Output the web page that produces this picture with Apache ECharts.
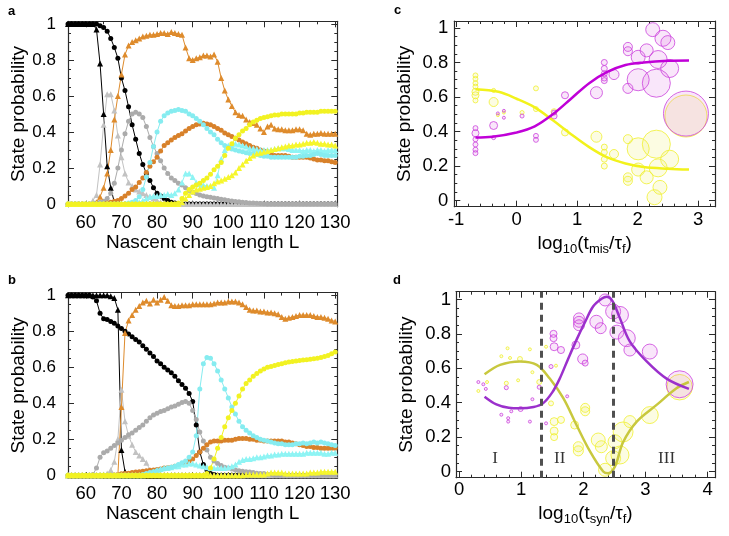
<!DOCTYPE html>
<html>
<head>
<meta charset="utf-8">
<script src="https://cdn.jsdelivr.net/npm/echarts@6/dist/echarts.min.js"></script>
<style>
html,body{margin:0;padding:0;background:#fff;}
#main{width:729px;height:536px;}
</style>
</head>
<body>
<div id="main"></div>
<script>
// nascent chain length L (panels a, b)
var chainLength = [55,56,57,58,59,60,61,62,63,64,
	65,66,67,68,69,70,71,72,73,74,
	75,76,77,78,79,80,81,82,83,84,
	85,86,87,88,89,90,91,92,93,94,
	95,96,97,98,99,100,101,102,103,104,
	105,106,107,108,109,110,111,112,113,114,
	115,116,117,118,119,120,121,122,123,124,
	125,126,127,128,129,130];

// panel a
var aBlackTri = [1,1,1,1,1,1,1,1,0.97,0.78,
	0.50,0.21,0.09,0.01,0,0,0,0,0,0,
	0,0,0,0,0,0,0,0,0,0,
	0,0,0,0,0,0,0,0,0,0,
	0,0,0,0,0,0,0,0,0,0,
	0,0,0,0,0,0,0,0,0,0,
	0,0,0,0,0,0,0,0,0,0,
	0,0,0,0,0,0];
var aBlackCirc = [1,1,1,1,1,1,1,1,1,0.99,
	0.98,0.96,0.92,0.87,0.81,0.70,0.63,0.54,0.44,0.36,
	0.28,0.22,0.17,0.13,0.09,0.06,0.045,0.03,0.02,0.01,
	0.005,0,0,0,0,0,0,0,0,0,
	0,0,0,0,0,0,0,0,0,0,
	0,0,0,0,0,0,0,0,0,0,
	0,0,0,0,0,0,0,0,0,0,
	0,0,0,0,0,0];
var aGrayTri = [0,0,0,0,0,0,0,0.02,0.05,0.22,
	0.44,0.61,0.61,0.52,0.38,0.26,0.17,0.12,0.10,0.08,
	0.07,0.06,0.05,0.04,0.03,0.02,0.01,0.005,0,0,
	0,0,0,0,0,0,0,0,0,0,
	0,0,0,0,0,0,0,0,0,0,
	0,0,0,0,0,0,0,0,0,0,
	0,0,0,0,0,0,0,0,0,0,
	0,0,0,0,0,0];
var aGrayCirc = [0,0,0,0,0,0,0,0,0.005,0.01,
	0.015,0.03,0.06,0.115,0.20,0.30,0.39,0.46,0.50,0.51,
	0.50,0.48,0.43,0.37,0.32,0.28,0.24,0.20,0.17,0.145,
	0.13,0.115,0.105,0.09,0.075,0.065,0.058,0.05,0.045,0.04,
	0.037,0.033,0.03,0.027,0.024,0.02,0.017,0.014,0.012,0.01,
	0.008,0.006,0.005,0.004,0.003,0.002,0,0,0,0,
	0,0,0,0,0,0,0,0,0,0,
	0,0,0,0,0,0];
var aOrangeTri = [0,0,0,0,0,0,0,0,0.01,0.04,
	0.09,0.17,0.30,0.47,0.60,0.72,0.83,0.88,0.90,0.91,
	0.92,0.93,0.935,0.94,0.94,0.945,0.95,0.95,0.945,0.955,
	0.95,0.945,0.94,0.87,0.81,0.80,0.81,0.815,0.825,0.825,
	0.82,0.83,0.79,0.70,0.63,0.58,0.545,0.51,0.495,0.49,
	0.47,0.455,0.45,0.44,0.42,0.40,0.43,0.44,0.42,0.415,
	0.415,0.41,0.41,0.41,0.415,0.415,0.41,0.39,0.385,0.39,
	0.39,0.395,0.39,0.39,0.39,0.39];
var aOrangeCirc = [0,0,0,0,0,0,0,0,0,0,
	0,0.005,0.01,0.015,0.02,0.03,0.045,0.06,0.08,0.095,
	0.12,0.145,0.175,0.21,0.235,0.26,0.295,0.325,0.34,0.355,
	0.37,0.38,0.39,0.405,0.42,0.43,0.44,0.445,0.448,0.445,
	0.44,0.43,0.42,0.41,0.395,0.385,0.375,0.365,0.355,0.345,
	0.335,0.325,0.315,0.31,0.30,0.295,0.29,0.28,0.27,0.27,
	0.27,0.27,0.265,0.26,0.26,0.26,0.26,0.26,0.255,0.25,
	0.245,0.245,0.24,0.24,0.235,0.23];
var aCyanTri = [0,0,0,0,0,0,0,0,0,0,
	0,0,0,0,0,0,0,0,0,0.005,
	0.01,0.02,0.03,0.04,0.045,0.045,0.05,0.05,0.055,0.05,
	0.06,0.08,0.12,0.17,0.17,0.15,0.12,0.11,0.105,0.10,
	0.10,0.09,0.16,0.25,0.30,0.325,0.33,0.335,0.33,0.325,
	0.32,0.31,0.31,0.305,0.30,0.30,0.30,0.30,0.305,0.31,
	0.31,0.31,0.305,0.30,0.30,0.30,0.295,0.30,0.30,0.295,
	0.30,0.30,0.295,0.30,0.30,0.30];
var aCyanCirc = [0,0,0,0,0,0,0,0,0,0,
	0,0,0,0,0,0,0,0.005,0.01,0.02,
	0.04,0.08,0.15,0.23,0.32,0.40,0.46,0.49,0.505,0.515,
	0.52,0.525,0.52,0.515,0.50,0.49,0.475,0.46,0.44,0.42,
	0.40,0.385,0.36,0.34,0.325,0.315,0.305,0.30,0.295,0.29,
	0.285,0.28,0.28,0.275,0.27,0.265,0.265,0.26,0.26,0.26,
	0.26,0.26,0.26,0.26,0.26,0.265,0.265,0.27,0.27,0.275,
	0.28,0.275,0.27,0.27,0.27,0.27];
var aYellowTri = [0,0,0,0,0,0,0,0,0,0,
	0,0,0,0,0,0,0,0,0,0,
	0,0,0,0,0,0,0,0,0,0,
	0,0,0.01,0.03,0.05,0.07,0.08,0.085,0.09,0.095,
	0.10,0.115,0.125,0.13,0.14,0.15,0.16,0.175,0.20,0.22,
	0.24,0.255,0.27,0.28,0.285,0.29,0.295,0.30,0.305,0.31,
	0.315,0.32,0.325,0.325,0.33,0.33,0.335,0.34,0.34,0.345,
	0.34,0.335,0.335,0.33,0.33,0.325];
var aYellowCirc = [0,0,0,0,0,0,0,0,0,0,
	0,0,0,0,0,0,0,0,0,0,
	0,0,0,0,0,0,0,0,0,0,
	0,0.005,0.03,0.06,0.08,0.095,0.105,0.115,0.13,0.145,
	0.165,0.19,0.21,0.23,0.27,0.31,0.335,0.365,0.385,0.405,
	0.42,0.44,0.455,0.465,0.475,0.48,0.485,0.49,0.495,0.495,
	0.50,0.50,0.50,0.50,0.50,0.505,0.505,0.51,0.51,0.51,
	0.51,0.515,0.515,0.515,0.515,0.515];

// panel b
var bBlackTri = [1,1,1,1,1,1,1,1,1,1,
	1,1,0.995,0.985,0.92,0.14,0.02,0.005,0,0,
	0,0,0,0,0,0,0,0,0,0,
	0,0,0,0,0,0,0,0,0,0,
	0,0,0,0,0,0,0,0,0,0,
	0,0,0,0,0,0,0,0,0,0,
	0,0,0,0,0,0,0,0,0,0,
	0,0,0,0,0,0];
var bBlackCirc = [1,1,1,1,1,1,1,0.99,0.97,0.90,
	0.87,0.865,0.855,0.845,0.83,0.815,0.80,0.785,0.77,0.755,
	0.74,0.72,0.70,0.68,0.66,0.635,0.62,0.60,0.585,0.57,
	0.55,0.525,0.505,0.483,0.455,0.41,0.28,0.13,0.06,0.03,
	0.01,0.005,0,0,0,0,0,0,0,0,
	0,0,0,0,0,0,0,0,0,0,
	0,0,0,0,0,0,0,0,0,0,
	0,0,0,0,0,0];
var bGrayTri = [0,0,0,0,0,0,0,0,0,0,
	0.005,0.01,0.03,0.075,0.20,0.475,0.30,0.22,0.17,0.13,
	0.11,0.09,0.07,0.03,0.02,0.01,0.005,0,0,0,
	0,0,0,0,0,0,0,0,0,0,
	0,0,0,0,0,0,0,0,0,0,
	0,0,0,0,0,0,0,0,0,0,
	0,0,0,0,0,0,0,0,0,0,
	0,0,0,0,0,0];
var bGrayCirc = [0,0,0,0,0,0,0,0.005,0.04,0.10,
	0.125,0.135,0.15,0.165,0.18,0.195,0.21,0.225,0.235,0.25,
	0.265,0.28,0.30,0.32,0.335,0.345,0.355,0.36,0.37,0.38,
	0.385,0.395,0.405,0.41,0.40,0.36,0.31,0.24,0.19,0.14,
	0.10,0.08,0.065,0.055,0.045,0.04,0.035,0.03,0.025,0.022,
	0.02,0.018,0.015,0.012,0.01,0.01,0.005,0.005,0,0,
	0,0,0,0,0,0,0,0,0,0,
	0,0,0,0,0,0];
var bOrangeTri = [0,0,0,0,0,0,0,0,0,0,
	0,0,0,0,0,0.38,0.79,0.86,0.89,0.92,
	0.94,0.96,0.97,0.955,0.975,0.96,0.975,0.99,0.97,0.945,
	0.94,0.94,0.945,0.945,0.945,0.95,0.95,0.95,0.95,0.95,
	0.95,0.955,0.96,0.96,0.96,0.965,0.965,0.965,0.96,0.95,
	0.935,0.92,0.915,0.915,0.91,0.91,0.905,0.905,0.90,0.895,
	0.88,0.87,0.875,0.88,0.885,0.89,0.89,0.89,0.89,0.885,
	0.88,0.88,0.875,0.87,0.86,0.855];
var bOrangeCirc = [0,0,0,0,0,0,0,0,0,0,
	0,0,0,0.002,0.005,0.008,0.01,0.012,0.015,0.018,
	0.02,0.022,0.025,0.028,0.03,0.032,0.035,0.04,0.042,0.045,
	0.05,0.055,0.06,0.07,0.08,0.09,0.11,0.13,0.15,0.17,
	0.185,0.19,0.19,0.19,0.195,0.195,0.195,0.20,0.205,0.205,
	0.205,0.20,0.20,0.195,0.195,0.19,0.19,0.19,0.19,0.19,
	0.19,0.185,0.185,0.18,0.175,0.17,0.165,0.16,0.16,0.155,
	0.155,0.15,0.15,0.15,0.15,0.15];
var bCyanTri = [0,0,0,0,0,0,0,0,0,0,
	0,0,0,0,0,0,0,0,0,0,
	0,0,0.005,0.01,0.02,0.03,0.035,0.04,0.04,0.045,
	0.05,0.05,0.06,0.06,0.065,0.065,0.06,0.055,0.05,0.045,
	0.04,0.04,0.04,0.04,0.04,0.045,0.05,0.06,0.075,0.085,
	0.09,0.09,0.095,0.10,0.10,0.105,0.11,0.11,0.115,0.115,
	0.12,0.12,0.12,0.12,0.12,0.12,0.12,0.125,0.125,0.125,
	0.125,0.125,0.12,0.12,0.125,0.125];
var bCyanCirc = [0,0,0,0,0,0,0,0,0,0,
	0,0,0,0,0,0,0,0,0,0,
	0,0.005,0.01,0.015,0.02,0.025,0.03,0.035,0.04,0.045,
	0.05,0.06,0.07,0.08,0.10,0.13,0.22,0.48,0.62,0.655,
	0.65,0.62,0.58,0.53,0.48,0.43,0.38,0.34,0.30,0.27,
	0.25,0.235,0.22,0.21,0.20,0.195,0.19,0.185,0.18,0.175,
	0.175,0.17,0.17,0.17,0.175,0.175,0.18,0.175,0.18,0.185,
	0.18,0.185,0.18,0.175,0.17,0.165];
var bYellowTri = [0,0,0,0,0,0,0,0,0,0,
	0,0,0,0,0,0,0,0,0,0,
	0,0,0,0,0,0,0,0,0,0,
	0,0,0,0,0,0,0,0,0,0,
	0,0,0,0,0,0,0,0,0,0,
	0.005,0.005,0.005,0.005,0.005,0.005,0.01,0.015,0.015,0.015,
	0.015,0.01,0.01,0.01,0.01,0.01,0.01,0.01,0.015,0.015,
	0.015,0.02,0.02,0.02,0.02,0.02];
var bYellowCirc = [0,0,0,0,0,0,0,0,0,0,
	0,0,0,0,0,0,0,0,0,0,
	0,0,0,0,0,0,0,0,0,0,
	0,0,0,0,0,0,0,0,0,0.01,
	0.04,0.09,0.15,0.21,0.27,0.32,0.36,0.40,0.44,0.48,
	0.51,0.53,0.55,0.565,0.58,0.59,0.60,0.605,0.61,0.615,
	0.62,0.625,0.63,0.632,0.635,0.638,0.64,0.642,0.645,0.648,
	0.65,0.655,0.66,0.665,0.675,0.685];

// panel c: [log10(tmis/tf), probability, weight]
var cMagenta = [[-0.68,0.42,3.3],[-0.68,0.39,4.7],[-0.68,0.355,3.3],[-0.68,0.325,3.3],[-0.68,0.295,3.3],[-0.68,0.275,3.3],
	[-0.38,0.435,5.3],[-0.38,0.365,2.7],[-0.31,0.505,2],[-0.21,0.52,2],[-0.21,0.48,2],[0.09,0.49,2.7],
	[0.32,0.375,3.3],[0.32,0.352,3.3],[0.62,0.51,3.3],[0.62,0.49,4],[0.80,0.61,4.7],[1.32,0.625,8],
	[1.45,0.80,4],[1.45,0.765,4],[1.45,0.735,4],[1.45,0.71,4],[1.45,0.695,4],[1.61,0.73,6.7],
	[1.84,0.89,6],[1.84,0.865,6],[1.84,0.65,6.7],[2.01,0.83,9.3],[2.01,0.70,14.7],[2.15,0.87,8.7],
	[2.25,0.99,9.3],[2.31,0.68,18.7],[2.34,0.817,12],[2.42,0.94,10.7],[2.5,0.915,9.3],[2.53,0.765,12],
	[2.80,0.504,30]];
var cYellow = [[-0.68,0.725,3.3],[-0.68,0.705,3.3],[-0.68,0.68,3.3],[-0.68,0.66,3.3],[-0.68,0.63,4.7],[-0.68,0.61,4.7],[-0.68,0.58,3.3],
	[-0.38,0.638,2.7],[-0.38,0.571,6],[-0.31,0.495,2],[-0.21,0.51,2],[0.09,0.51,2.7],
	[0.32,0.65,3.3],[0.32,0.53,3.3],[0.62,0.515,4],[0.80,0.395,4.7],[1.32,0.37,7.3],
	[1.45,0.31,4],[1.45,0.28,4],[1.45,0.24,4],[1.45,0.20,4],[1.61,0.27,6],
	[1.84,0.356,6],[1.84,0.135,6],[1.84,0.115,6],[2.01,0.30,14.7],[2.01,0.18,8.7],[2.15,0.135,8.7],
	[2.31,0.327,18.7],[2.28,0.02,10],[2.34,0.19,12],[2.37,0.077,9.3],[2.53,0.24,12],
	[2.80,0.49,28]];
var cMagentaFit = [[-0.68,0.365],[-0.4,0.37],[0,0.395],[0.3,0.43],[0.6,0.5],[0.9,0.59],[1.2,0.68],[1.5,0.745],[1.8,0.785],[2.1,0.80],[2.5,0.81],[2.85,0.812]];
var cYellowFit = [[-0.68,0.645],[-0.3,0.63],[0,0.59],[0.3,0.54],[0.6,0.465],[0.9,0.385],[1.2,0.31],[1.5,0.25],[1.8,0.215],[2.1,0.195],[2.5,0.185],[2.85,0.18]];

// panel d: [log10(tsyn/tf), probability, weight]
var dMagenta = [[0.31,0.52,2],[0.39,0.507,2],[0.43,0.48,2],[0.76,0.487,2.7],[0.84,0.35,2],[0.79,0.31,2],[0.79,0.29,2],
	[0.68,0.33,2],[1.14,0.29,2],[0.99,0.363,3.3],[1.18,0.42,2],[1.29,0.49,2.7],[1.40,0.28,2],[1.74,0.437,2],[1.48,0.61,2.7],
	[1.52,0.80,4.7],[1.52,0.775,4.7],[1.53,0.725,5.3],[1.64,0.706,4.7],[1.88,0.735,5.3],
	[1.93,0.89,7.3],[1.93,0.87,7.3],[1.93,0.85,7.3],[1.99,0.654,6.7],[2.03,0.63,4],
	[2.21,0.87,8.7],[2.28,0.833,7.3],[2.35,0.997,8],[2.48,0.93,10],[2.59,0.91,11.3],[2.54,0.81,9.3],
	[2.70,0.775,11.3],[2.75,0.706,8],[3.07,0.697,10],[3.55,0.507,18]];
var dYellow = [[0.68,0.67,2],[0.78,0.716,2],[0.82,0.66,2],[0.98,0.654,3.3],[1.14,0.71,2],[1.18,0.577,2],[1.40,0.725,2],
	[1.56,0.615,2],[0.45,0.52,2],[0.31,0.468,2],[0.76,0.513,2.7],[0.95,0.53,2],[1.29,0.52,3.3],
	[1.48,0.396,3.3],[1.53,0.29,5.3],[1.53,0.235,5.3],[1.53,0.20,4.7],[1.64,0.30,4.7],[1.86,0.27,5.3],
	[1.92,0.144,6.7],[1.92,0.12,6.7],[2.03,0.37,6],[2.03,0.35,6],
	[2.24,0.183,9.3],[2.29,0.144,8],[2.35,0.01,8.7],[2.48,0.077,10],[2.59,0.096,12],[2.51,0.173,9.3],
	[2.64,0.23,13.3],[2.75,0.29,8],[3.07,0.328,11.3],[3.55,0.49,17]];
var dMagentaFit = [[0.41,0.435],[0.6,0.39],[0.8,0.37],[0.98,0.367],[1.2,0.375],[1.35,0.396],[1.5,0.46],[1.62,0.54],
	[1.75,0.65],[1.89,0.765],[2.03,0.87],[2.16,0.96],[2.3,1.005],[2.38,1.015],[2.47,0.99],[2.59,0.89],[2.75,0.755],
	[3.02,0.64],[3.34,0.54],[3.70,0.48]];
var dOliveFit = [[0.41,0.565],[0.66,0.62],[0.98,0.64],[1.25,0.62],[1.46,0.54],[1.68,0.425],[1.89,0.27],[2.11,0.115],
	[2.32,0.0],[2.40,-0.01],[2.51,0.03],[2.64,0.17],[2.86,0.29],[3.18,0.387],[3.50,0.484],[3.70,0.52]];
var regimeBounds = [1.33, 2.48];
var regimeNames = [{value:[0.58,0.075], name:'I'}, {value:[1.62,0.075], name:'II'}, {value:[3.34,0.075], name:'III'}];

// tick labels
var lengthTicks = [60,70,80,90,100,110,120,130];
var lengthMinor = [55,65,75,85,95,105,115,125];
var probTicks = [0,0.2,0.4,0.6,0.8,1];
var probMinor = [0.05,0.1,0.15,0.25,0.3,0.35,0.45,0.5,0.55,0.65,0.7,0.75,0.85,0.9,0.95];
var misTicks = [-1,0,1,2,3];
var misMinor = [-0.8,-0.6,-0.4,-0.2,0.2,0.4,0.6,0.8,1.2,1.4,1.6,1.8,2.2,2.4,2.6,2.8,3.2];
var synTicks = [0,1,2,3,4];
var synMinor = [0.2,0.4,0.6,0.8,1.2,1.4,1.6,1.8,2.2,2.4,2.6,2.8,3.2,3.4,3.6,3.8];

(function() {
	var font = 'Liberation Sans';
	var ink = '#2a2a2a';
	var chart = echarts.init(document.getElementById('main'));

	var xAxes = [], yAxes = [];
	// two axes per side: main (line, major ticks, labels) and minor ticks
	function addAxes(list, gi, r, sides) {
		[sides[0], sides[1]].forEach(function(pos, k) {
			var main = {
				type: 'value', gridIndex: gi, min: r.min, max: r.max, position: pos, silent: true,
				splitLine: {show: false},
				axisLine: {show: true, onZero: false, lineStyle: {color: ink, width: 1.2}},
				axisTick: {show: true, inside: true, length: 6, customValues: r.ticks, lineStyle: {color: ink}},
				axisLabel: {show: k === 0, customValues: r.ticks, margin: r.margin, fontSize: r.fontSize,
					fontFamily: font, color: '#000', formatter: function(v) { return String(v); }}
			};
			if (k === 0 && r.name) {
				main.name = r.name;
				main.nameLocation = 'middle';
				main.nameGap = r.nameGap;
				main.nameTextStyle = {fontSize: 19, fontFamily: font, color: '#000',
					rich: {s: {fontSize: 13, fontFamily: font, color: '#000', padding: [10, 0, 0, 0]}}};
			}
			list.push(main);
			list.push({
				type: 'value', gridIndex: gi, min: r.min, max: r.max, position: pos, silent: true,
				splitLine: {show: false},
				axisLine: {show: false, onZero: false},
				axisTick: {show: true, inside: true, length: 3, customValues: r.minor, lineStyle: {color: ink}},
				axisLabel: {show: false}
			});
		});
	}

	addAxes(xAxes, 0, {min: 55, max: 130.6, ticks: lengthTicks, minor: lengthMinor, margin: 7, fontSize: 18.5, name: 'Nascent chain length L', nameGap: 24}, ['bottom', 'top']);
	addAxes(yAxes, 0, {min: -0.015, max: 1.015, ticks: probTicks, minor: probMinor, margin: 12, fontSize: 17, name: 'State probability', nameGap: 40}, ['left', 'right']);
	addAxes(xAxes, 1, {min: 55, max: 130.6, ticks: lengthTicks, minor: lengthMinor, margin: 6, fontSize: 18.5, name: 'Nascent chain length L', nameGap: 23}, ['bottom', 'top']);
	addAxes(yAxes, 1, {min: -0.015, max: 1.015, ticks: probTicks, minor: probMinor, margin: 12, fontSize: 17, name: 'State probability', nameGap: 40}, ['left', 'right']);
	addAxes(xAxes, 2, {min: -1.03, max: 3.28, ticks: misTicks, minor: misMinor, margin: 4, fontSize: 18.5, name: 'log{s|10}(t{s|mis}/τ{s|f})', nameGap: 26}, ['bottom', 'top']);
	addAxes(yAxes, 2, {min: -0.035, max: 1.04, ticks: probTicks, minor: probMinor, margin: 6, fontSize: 18.5, name: 'State probability', nameGap: 40}, ['left', 'right']);
	addAxes(xAxes, 3, {min: -0.05, max: 4.12, ticks: synTicks, minor: synMinor, margin: 3, fontSize: 18.5, name: 'log{s|10}(t{s|syn}/τ{s|f})', nameGap: 25}, ['bottom', 'top']);
	addAxes(yAxes, 3, {min: -0.036, max: 1.045, ticks: probTicks, minor: probMinor, margin: 5, fontSize: 18.5, name: 'State probability', nameGap: 40}, ['left', 'right']);

	function profile(gi, values, color, symbol) {
		return {
			type: 'line', xAxisIndex: gi * 4, yAxisIndex: gi * 4,
			data: chainLength.map(function(L, i) { return [L, values[i]]; }),
			symbol: symbol, symbolSize: symbol === 'triangle' ? 6 : 5,
			showSymbol: true, silent: true,
			lineStyle: {color: color, width: 1},
			itemStyle: {color: color}
		};
	}

	function bubbles(gi, pts, color, tint, hatch) {
		return {
			type: 'scatter', xAxisIndex: gi * 4, yAxisIndex: gi * 4, data: pts, silent: true, z: 2,
			symbol: 'circle',
			symbolSize: function(v) { return v[2] * 1.5; },
			itemStyle: {color: tint, borderColor: color, borderWidth: 1,
				decal: {symbol: 'rect', symbolSize: 1, dashArrayX: [1, 0], dashArrayY: [2, 4],
					rotation: -Math.PI / 4, color: hatch}}
		};
	}

	function fit(gi, pts, color) {
		return {
			type: 'line', xAxisIndex: gi * 4, yAxisIndex: gi * 4, data: pts, smooth: 0.35,
			symbol: 'none', silent: true, z: 3,
			lineStyle: {color: color, width: 2.5}
		};
	}

	var series = [];
	[[aBlackTri, '#000000', 'triangle'], [aBlackCirc, '#000000', 'circle'],
	 [aGrayTri, '#c2c2c2', 'triangle'], [aGrayCirc, '#ababab', 'circle'],
	 [aOrangeTri, '#de8b2c', 'triangle'], [aOrangeCirc, '#d8812a', 'circle'],
	 [aCyanTri, '#8ef4f4', 'triangle'], [aCyanCirc, '#86ecf0', 'circle'],
	 [aYellowTri, '#f6f62c', 'triangle'], [aYellowCirc, '#f2f222', 'circle']].forEach(function(s) {
		series.push(profile(0, s[0], s[1], s[2]));
	});
	[[bBlackTri, '#000000', 'triangle'], [bBlackCirc, '#000000', 'circle'],
	 [bGrayTri, '#c2c2c2', 'triangle'], [bGrayCirc, '#ababab', 'circle'],
	 [bOrangeTri, '#de8b2c', 'triangle'], [bOrangeCirc, '#d8812a', 'circle'],
	 [bCyanTri, '#8ef4f4', 'triangle'], [bCyanCirc, '#86ecf0', 'circle'],
	 [bYellowTri, '#f6f62c', 'triangle'], [bYellowCirc, '#f2f222', 'circle']].forEach(function(s) {
		series.push(profile(1, s[0], s[1], s[2]));
	});

	var yTint = 'rgba(240,240,90,0.22)', mTint = 'rgba(220,100,225,0.2)';
	var yHatch = 'rgba(225,225,40,0.6)', mHatch = 'rgba(215,90,220,0.6)';
	series.push(bubbles(2, cYellow, '#f0f030', yTint, yHatch));
	series.push(bubbles(2, cMagenta, '#cc44dd', mTint, mHatch));
	series.push(fit(2, cYellowFit, '#f2f21c'));
	series.push(fit(2, cMagentaFit, '#c000d8'));

	series.push(bubbles(3, dYellow, '#f0f030', yTint, yHatch));
	series.push(bubbles(3, dMagenta, '#cc44dd', mTint, mHatch));
	series.push(fit(3, dOliveFit, '#c8c83e'));
	series.push(fit(3, dMagentaFit, '#9b30cc'));
	series.push({
		type: 'scatter', xAxisIndex: 12, yAxisIndex: 12, data: regimeNames, symbolSize: 0, silent: true, z: 4,
		label: {show: true, position: 'inside', formatter: '{b}', fontFamily: 'Liberation Serif', fontSize: 17, color: '#000'},
		markLine: {
			silent: true, symbol: ['none', 'none'], label: {show: false},
			lineStyle: {type: [7, 5], color: '#505050', width: 3},
			data: regimeBounds.map(function(v) { return {xAxis: v}; })
		}
	});

	var option = {
		animation: false,
		backgroundColor: '#fff',
		grid: [
			{left: 68, top: 21.3, width: 269.3, height: 185.4, containLabel: false, outerBoundsMode: 'none'},
			{left: 68, top: 292.6, width: 269.3, height: 185.4, containLabel: false, outerBoundsMode: 'none'},
			{left: 454.3, top: 21, width: 260.7, height: 185.7, containLabel: false, outerBoundsMode: 'none'},
			{left: 456, top: 291.7, width: 259, height: 186, containLabel: false, outerBoundsMode: 'none'}
		],
		xAxis: xAxes,
		yAxis: yAxes,
		graphic: [
			{type: 'text', left: 8, top: 5, style: {text: 'a', font: 'bold 13px Liberation Sans', fill: '#000'}},
			{type: 'text', left: 8, top: 274, style: {text: 'b', font: 'bold 13px Liberation Sans', fill: '#000'}},
			{type: 'text', left: 394, top: 4, style: {text: 'c', font: 'bold 13px Liberation Sans', fill: '#000'}},
			{type: 'text', left: 393, top: 274, style: {text: 'd', font: 'bold 13px Liberation Sans', fill: '#000'}}
		],
		series: series
	};
	chart.setOption(option);
})();
</script>
</body>
</html>
